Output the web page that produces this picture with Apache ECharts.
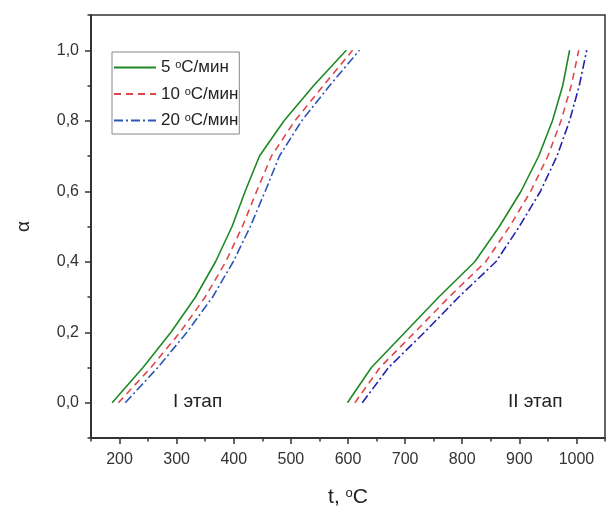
<!DOCTYPE html>
<html><head><meta charset="utf-8">
<script src="https://cdn.jsdelivr.net/npm/echarts@6/dist/echarts.min.js"></script>
<style>html,body{margin:0;padding:0;background:#fff}#c{width:607px;height:507px}</style>
</head><body><div id="c"></div>
<script>
// Data: [t, alpha]
const alphaLevels = [0, 0.1, 0.2, 0.3, 0.4, 0.5, 0.6, 0.7, 0.8, 0.9, 1.0];
const t5_I   = [187, 241, 290, 333, 368, 397, 420, 445, 488, 540, 597];
const t10_I  = [198, 255, 306, 350, 386, 415, 440, 466, 507, 557, 608];
const t20_I  = [210, 267, 318, 363, 399, 429, 455, 480, 519, 568, 620];
const t5_II  = [599, 641, 700, 759, 822, 865, 903, 934, 958, 976, 988];
const t10_II = [612, 656, 717, 777, 841, 883, 920, 950, 973, 991, 1004];
const t20_II = [625, 671, 734, 794, 859, 900, 937, 966, 988, 1005, 1018];
const seriesNames = ['5 {s|o}C/мин', '10 {s|o}C/мин', '20 {s|o}C/мин'];
const xMajor = [200, 300, 400, 500, 600, 700, 800, 900, 1000];
const xMinor = [150, 250, 350, 450, 550, 650, 750, 850, 950, 1050];
const yMajor = [0, 0.2, 0.4, 0.6, 0.8, 1.0];
const yMinor = [-0.1, 0.1, 0.3, 0.5, 0.7, 0.9, 1.1];

const pts = ts => ts.map((t, i) => [t, alphaLevels[i]]);
const font = 'Arial, "Liberation Sans", sans-serif';
const styles = [
  {color: '#1f8a24', type: 'solid'},
  {color: '#e0474c', type: [7, 5]},
  {color: '#2f55b8', type: [9, 3, 2, 3]}
];
const stageIIcolors = ['#1f8a24', '#e0474c', '#2222b0'];
const groups = [[t5_I, t5_II], [t10_I, t10_II], [t20_I, t20_II]];
const series = [];
groups.forEach((g, k) => {
  series.push({name: seriesNames[k], type: 'line', data: pts(g[0]), symbol: 'none', showSymbol: false,
    lineStyle: {width: 1.6, color: styles[k].color, type: styles[k].type}, itemStyle: {color: styles[k].color}, z: 5 - k});
});
groups.forEach((g, k) => {
  series.push({name: seriesNames[k], type: 'line', data: pts(g[1]), symbol: 'none', showSymbol: false,
    lineStyle: {width: 1.6, color: stageIIcolors[k], type: styles[k].type}, itemStyle: {color: stageIIcolors[k]}, z: 5 - k});
});

const chart = echarts.init(document.getElementById('c'), null, {renderer: 'canvas'});
const supRich = size => ({s: {fontSize: size, verticalAlign: 'top', padding: [0, 0, 0, 0], fontFamily: font, color: '#222', lineHeight: size}});
chart.setOption({
  animation: false,
  backgroundColor: '#fff',
  grid: {left: 91, top: 15, right: 2, bottom: 69, show: true, borderColor: '#333', borderWidth: 1.5,
    containLabel: false, outerBoundsMode: 'none'},
  legend: {
    orient: 'vertical', left: 112, top: 52, itemWidth: 42, itemHeight: 14, itemGap: 9.5,
    padding: [7, 1, 5, 1], borderColor: '#888', borderWidth: 1,
    itemStyle: {opacity: 0},
    data: seriesNames,
    textStyle: {fontFamily: font, fontSize: 17, color: '#222', lineHeight: 16, rich: supRich(11)}
  },
  xAxis: [
    {
      type: 'value', min: 150, max: 1050, position: 'bottom',
      axisLine: {show: true, onZero: false, lineStyle: {color: '#333', width: 2}}, splitLine: {show: false},
      name: 't, {s|o}C', nameLocation: 'middle', nameGap: 49,
      nameTextStyle: {fontFamily: font, fontSize: 21, color: '#222', rich: supRich(13)},
      axisTick: {show: true, inside: false, length: 6, lineStyle: {color: '#333', width: 1.5}, customValues: xMajor},
      axisLabel: {customValues: xMajor, fontFamily: font, fontSize: 16, color: '#333', margin: 14,
        formatter: v => String(v)}
    },
    {
      type: 'value', min: 150, max: 1050, position: 'bottom',
      axisLine: {show: false, onZero: false}, splitLine: {show: false},
      axisTick: {show: true, length: 3.5, lineStyle: {color: '#333', width: 1.5}, customValues: xMinor},
      axisLabel: {show: false}
    }
  ],
  yAxis: [
    {
      type: 'value', min: -0.1, max: 1.1, position: 'left',
      axisLine: {show: true, onZero: false, lineStyle: {color: '#333', width: 2}}, splitLine: {show: false},
      name: 'α', nameLocation: 'middle', nameGap: 58, nameRotate: 90,
      nameTextStyle: {fontFamily: font, fontSize: 19, color: '#222'},
      axisTick: {show: true, length: 6, lineStyle: {color: '#333', width: 1.5}, customValues: yMajor},
      axisLabel: {customValues: yMajor, fontFamily: font, fontSize: 16, color: '#333', margin: 12,
        formatter: v => v.toFixed(1).replace('.', ',')}
    },
    {
      type: 'value', min: -0.1, max: 1.1, position: 'left',
      axisLine: {show: false, onZero: false}, splitLine: {show: false},
      axisTick: {show: true, length: 3.5, lineStyle: {color: '#333', width: 1.5}, customValues: yMinor},
      axisLabel: {show: false}
    }
  ],
  graphic: [
    {type: 'text', left: 173, top: 392, style: {text: 'I этап', font: '19px ' + font, fill: '#222'}},
    {type: 'text', left: 508, top: 392, style: {text: 'II этап', font: '19px ' + font, fill: '#222'}}
  ],
  series: series
});
</script></body></html>
